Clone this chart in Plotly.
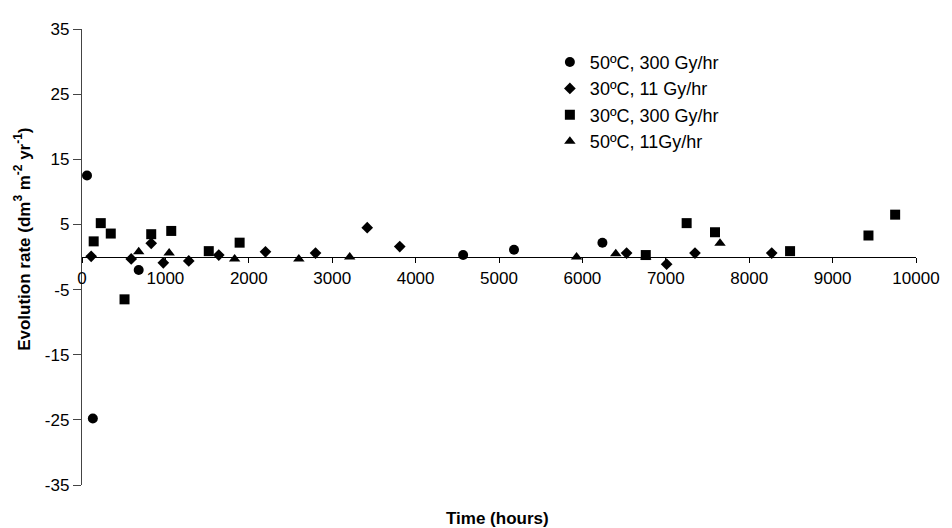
import plotly.graph_objects as go

# 50ºC, 300 Gy/hr
t_50_300 = [60, 130, 680, 4570, 5180, 6240]
r_50_300 = [12.5, -24.8, -2.0, 0.3, 1.1, 2.2]

# 30ºC, 11 Gy/hr
t_30_11 = [110, 590, 830, 975, 1280, 1640, 2200, 2800, 3420, 3810, 6530, 7010, 7350, 8270]
r_30_11 = [0.1, -0.3, 2.1, -0.9, -0.6, 0.3, 0.8, 0.6, 4.5, 1.6, 0.6, -1.1, 0.6, 0.6]

# 30ºC, 300 Gy/hr
t_30_300 = [140, 225, 345, 510, 830, 1070, 1520, 1890, 6760, 7250, 7590, 8490, 9430, 9750]
r_30_300 = [2.4, 5.2, 3.6, -6.5, 3.5, 4.0, 0.9, 2.2, 0.3, 5.2, 3.8, 0.9, 3.3, 6.5]

# 50ºC, 11Gy/hr
t_50_11 = [680, 1045, 1830, 2600, 3210, 5930, 6400, 6760, 7650]
r_50_11 = [0.8, 0.6, -0.3, -0.3, 0.0, 0.0, 0.5, 0.0, 2.1]

series = [
    ("50ºC, 300 Gy/hr", t_50_300, r_50_300, "circle", 10),
    ("30ºC, 11 Gy/hr", t_30_11, r_30_11, "diamond", 9),
    ("30ºC, 300 Gy/hr", t_30_300, r_30_300, "square", 10),
    ("50ºC, 11Gy/hr", t_50_11, r_50_11, "triangle-up", 10),
]

x_ticks = [0, 1000, 2000, 3000, 4000, 5000, 6000, 7000, 8000, 9000, 10000]
x_tick_labels = ["0", "1000", "2000", "3000", "4000", "5000", "6000", "7000", "8000", "9000", "10000"]
y_ticks = [-35, -25, -15, -5, 5, 15, 25, 35]
y_tick_labels = ["-35", "-25", "-15", "-5", "5", "15", "25", "35"]

FONT = "Liberation Sans, Arial, sans-serif"

fig = go.Figure()
for name, xs, ys, sym, sz in series:
    fig.add_trace(go.Scatter(
        x=xs, y=ys, mode="markers", name=name,
        marker=dict(symbol=sym, size=sz, color="black", line=dict(width=0)),
    ))

# the page body has an 8px margin, so the figure is sized to fit inside the window
fig.update_layout(
    width=944, height=520,
    margin=dict(l=74, r=27, t=15, b=43),
    paper_bgcolor="white", plot_bgcolor="white",
    font=dict(family=FONT, size=17, color="black"),
    showlegend=True,
    legend=dict(x=0.561, y=0.9675, xanchor="left", yanchor="top",
                font=dict(size=18), bgcolor="rgba(0,0,0,0)",
                itemwidth=30),
    xaxis=dict(range=[0, 10000], tickvals=x_ticks, ticktext=x_tick_labels,
               anchor="free", position=0.5,
               showline=True, linecolor="black", linewidth=1.3,
               ticks="outside", ticklen=5, tickcolor="black",
               showgrid=False, zeroline=False,
               tickfont=dict(size=17)),
    yaxis=dict(range=[-35, 35], tickvals=y_ticks, ticktext=y_tick_labels,
               showline=True, linecolor="#444", linewidth=1.3,
               ticks="outside", ticklen=8, tickcolor="#444",
               showgrid=False, zeroline=False,
               tickfont=dict(size=17)),
    annotations=[
        dict(text="<b>Evolution rate (dm<sup>3</sup> m<sup>-2</sup> yr<sup>-1</sup>)</b>",
             xref="paper", yref="paper", x=-0.0712, y=0.539,
             textangle=-90, showarrow=False, xanchor="center", yanchor="middle",
             font=dict(size=17)),
        dict(text="<b>Time (hours)</b>",
             xref="paper", yref="paper", x=0.498, y=-0.0736,
             showarrow=False, xanchor="center", yanchor="middle",
             font=dict(size=17)),
    ],
)

fig.write_html("out.html")
